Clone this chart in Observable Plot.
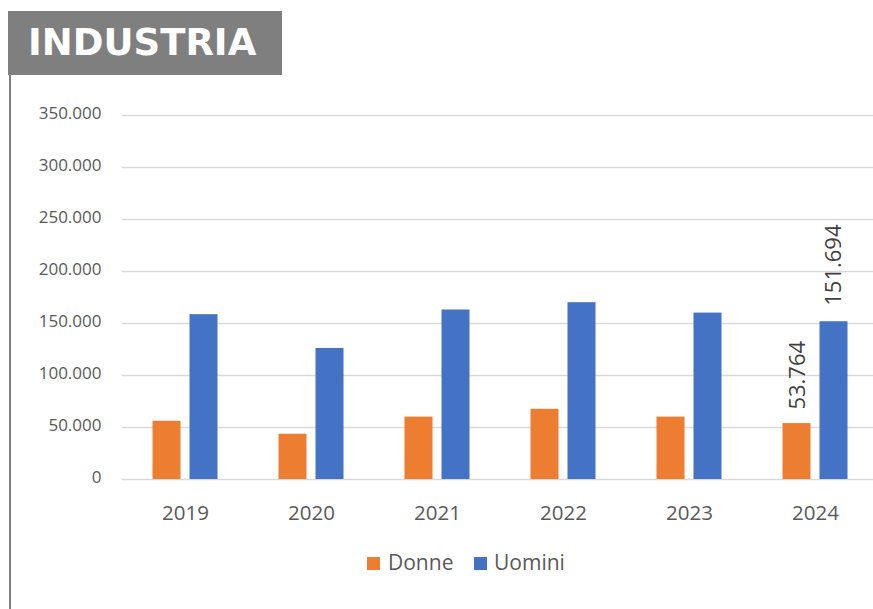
<!DOCTYPE html>
<html>
<head>
<meta charset="utf-8">
<script src="https://cdn.jsdelivr.net/npm/d3@7"></script>
<script src="https://cdn.jsdelivr.net/npm/@observablehq/plot@0.6"></script>
<style>
  body { margin: 0; background: #fff; }
  #wrap { position: relative; width: 873px; height: 609px; overflow: hidden; background: #fff; }
  #title { position: absolute; left: 8px; top: 11px; width: 274px; height: 64px; background: #7f7f7f;
           color: #fff; font-family: "DejaVu Sans", sans-serif; font-weight: bold; font-size: 37px;
           line-height: 64px; padding-left: 20px; box-sizing: border-box; }
  #border { position: absolute; left: 9px; top: 75px; width: 2px; height: 534px; background: #7f7f7f; }
  #chart { position: absolute; left: 0; top: 0; }
  .lg { position: absolute; font-family: "Open Sans", sans-serif; font-size: 21px; color: #595959; line-height: 24px; }
  .sw { position: absolute; width: 13px; height: 13px; }
</style>
</head>
<body>
<div id="wrap">
  <div id="chart"></div>
  <div id="title">INDUSTRIA</div>
  <div id="border"></div>
  <div id="legend"></div>
</div>
<script>
const years = ["2019", "2020", "2021", "2022", "2023", "2024"];
const donne = [56000, 43500, 60000, 67500, 60000, 53764];
const uomini = [158500, 126000, 163000, 170000, 160000, 151694];
const seriesNames = ["Donne", "Uomini"];
const seriesColors = ["#ED7D31", "#4472C4"];
const yTicks = [0, 50000, 100000, 150000, 200000, 250000, 300000, 350000];
const labelledYear = "2024";

const fmt = d3.formatLocale({decimal: ",", thousands: ".", grouping: [3], currency: ["", "€"]}).format(",d");

const table = [];
years.forEach((y, i) => {
  table.push({year: y, series: "Donne", value: donne[i]});
  table.push({year: y, series: "Uomini", value: uomini[i]});
});
const tD = table.filter(d => d.series === "Donne");
const tU = table.filter(d => d.series === "Uomini");

const chart = Plot.plot({
  width: 873,
  height: 545,
  marginTop: 115,
  marginBottom: 66,
  marginLeft: 122,
  marginRight: 0,
  style: {fontFamily: "Open Sans, sans-serif", color: "#595959", background: "transparent"},
  x: {type: "band", domain: years, range: [122, 878], padding: 0, label: null},
  y: {domain: [0, 350000], label: null},
  marks: [
    Plot.ruleY(yTicks, {stroke: "#d9d9d9", strokeWidth: 1.5}),
    Plot.barY(tD, {x: "year", y: "value", fill: seriesColors[0], insetLeft: 30.5, insetRight: 67.5}),
    Plot.barY(tU, {x: "year", y: "value", fill: seriesColors[1], insetLeft: 67.5, insetRight: 30.5}),
    Plot.text(tD.filter(d => d.year === labelledYear), {x: "year", y: "value", text: d => fmt(d.value),
      rotate: -90, textAnchor: "start", dx: -18, dy: -14, fontSize: 22, fill: "#404040"}),
    Plot.text(tU.filter(d => d.year === labelledYear), {x: "year", y: "value", text: d => fmt(d.value),
      rotate: -90, textAnchor: "start", dx: 18, dy: -16, fontSize: 22, fill: "#404040"}),
    Plot.axisY({ticks: yTicks, tickFormat: fmt, tickSize: 0, tickPadding: 21, fontSize: 17, dy: -2, label: null}),
    Plot.axisX({tickSize: 0, tickPadding: 26, fontSize: 20.5, label: null})
  ]
});
document.getElementById("chart").appendChild(chart);

// legend
const legend = document.getElementById("legend");
const lgPos = [{sq: 367, tx: 388}, {sq: 474, tx: 494}];
seriesNames.forEach((name, i) => {
  const sw = document.createElement("div");
  sw.className = "sw";
  sw.style.left = lgPos[i].sq + "px";
  sw.style.top = "557px";
  sw.style.background = seriesColors[i];
  legend.appendChild(sw);
  const tx = document.createElement("div");
  tx.className = "lg";
  tx.style.left = lgPos[i].tx + "px";
  tx.style.top = "550px";
  tx.textContent = name;
  legend.appendChild(tx);
});
</script>
</body>
</html>
